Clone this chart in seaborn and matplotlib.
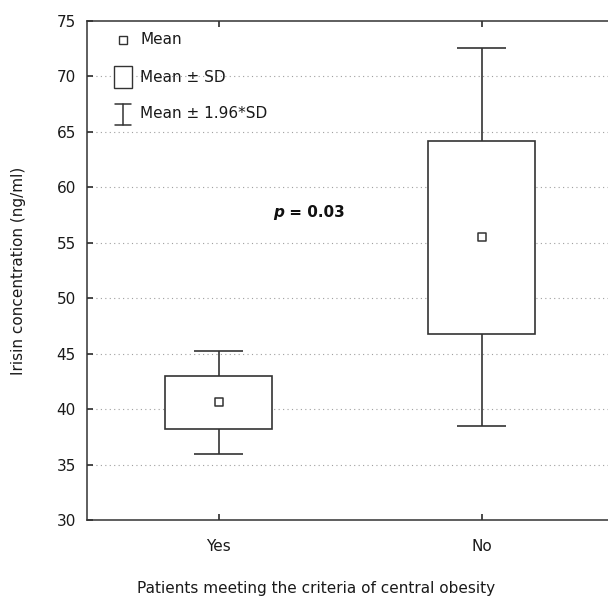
import matplotlib
matplotlib.use("Agg")
import matplotlib.pyplot as plt
from matplotlib.patches import Rectangle
import seaborn as sns
import numpy as np
import pandas as pd

# ---- data ----
categories = ["Yes", "No"]
means = [40.6, 55.5]
sds = [2.35, 8.7]
y_ticks = [30, 35, 40, 45, 50, 55, 60, 65, 70, 75]
p_text_value = "0.03"

sns.set_theme(style="white")
plt.rcParams['font.family'] = ['DejaVu Sans']

fig = plt.figure(figsize=(6.08, 5.98), dpi=100)
ax = fig.add_axes([87 / 608, 1 - 520 / 598, (613 - 87) / 608, (520 - 21) / 598])

lc = "#333333"
tc = "#1a1a1a"
fs = 11
df = pd.DataFrame({"cat": categories, "mean": means, "sd": sds})
xpos = np.arange(len(categories))
lo = df["mean"] - df["sd"]
hi = df["mean"] + df["sd"]
wlo = df["mean"] - 1.96 * df["sd"]
whi = df["mean"] + 1.96 * df["sd"]

# gridlines
for t in y_ticks[1:-1]:
    ax.axhline(t, color="#a0a0a0", linestyle=(0, (1, 3)), linewidth=0.8, zorder=0)

# whiskers
ax.vlines(xpos, wlo, whi, color=lc, linewidth=1.2, zorder=1)
ax.hlines(whi, xpos - 0.095, xpos + 0.095, color=lc, linewidth=1.2, zorder=1)
ax.hlines(wlo, xpos - 0.095, xpos + 0.095, color=lc, linewidth=1.2, zorder=1)

# boxes
ax.bar(xpos, hi - lo, bottom=lo, width=0.405, color="white", edgecolor=lc,
       linewidth=1.2, zorder=2)

# means
sns.scatterplot(data=df.assign(x=xpos), x="x", y="mean", marker="s", s=34,
                facecolor="white", edgecolor=lc, linewidth=1.1, zorder=3, ax=ax,
                legend=False)

ax.set_xlim(-0.5, 1.5)
ax.set_ylim(30, 75)
ax.set_yticks(y_ticks)
ax.set_xticks(xpos)
ax.set_xticklabels(categories)
ax.tick_params(axis="both", direction="in", length=4.5, color=lc, labelsize=fs,
               labelcolor=tc, pad=8, top=True, bottom=True, left=True)
ax.tick_params(axis="x", pad=14)
for s in ax.spines.values():
    s.set_color(lc)
    s.set_linewidth(1.1)
ax.set_xlabel("")
ax.set_ylabel("Irisin concentration (ng/ml)", fontsize=fs, color=tc, labelpad=22)
fig.text(316 / 608, 1 - 588 / 598, "Patients meeting the criteria of central obesity",
         ha="center", va="center", fontsize=fs, color=tc)

# p-value
ax.text(0.25, 57.7, "p", fontsize=fs, fontweight="bold",
        fontstyle="italic", ha="right", va="center", color="#111111")
ax.text(0.25, 57.7, " = " + p_text_value, fontsize=fs, fontweight="bold",
        ha="left", va="center", color="#111111")

# legend (manual)
def ax_frac_x(px):
    return (px - 87) / (613 - 87)

def ax_frac_y(py):
    return 1 - (py - 21) / (520 - 21)

T = ax.transAxes
ax.add_patch(Rectangle((ax_frac_x(119), ax_frac_y(44)), 8 / 526, 8 / 499,
                       transform=T, facecolor="white", edgecolor=lc, linewidth=1.0, zorder=5))
ax.add_patch(Rectangle((ax_frac_x(114), ax_frac_y(88)), 18 / 526, 22 / 499,
                       transform=T, facecolor="white", edgecolor=lc, linewidth=1.0, zorder=5))
ax.plot([ax_frac_x(123)] * 2, [ax_frac_y(104), ax_frac_y(125)], transform=T, color=lc, lw=1.1)
ax.plot([ax_frac_x(115), ax_frac_x(131)], [ax_frac_y(104)] * 2, transform=T, color=lc, lw=1.1)
ax.plot([ax_frac_x(115), ax_frac_x(131)], [ax_frac_y(125)] * 2, transform=T, color=lc, lw=1.1)
for py, label in [(40, "Mean"), (77, "Mean ± SD"), (114, "Mean ± 1.96*SD")]:
    ax.text(ax_frac_x(140), ax_frac_y(py), label, transform=T, fontsize=fs,
            ha="left", va="center", color=tc)

fig.savefig("out.png", dpi=100)
